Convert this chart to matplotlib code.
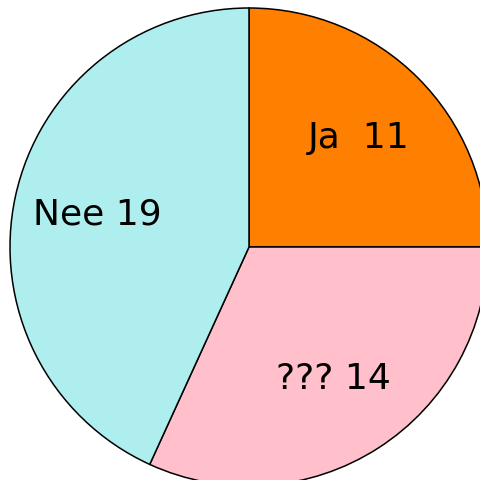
import matplotlib
matplotlib.use("Agg")
import matplotlib.pyplot as plt

labels = ["Ja", "???", "Nee"]
values = [11, 14, 19]
colors = ["#ff7f00", "#ffc0cb", "#afeeee"]
label_texts = ["Ja  11", "??? 14", "Nee 19"]

fig = plt.figure(figsize=(4.81, 4.81), dpi=100)
ax = fig.add_axes([0, 0, 1, 1])

ax.pie(values, labels=label_texts, colors=colors, startangle=90,
       counterclock=False, center=(249, 481 - 248), radius=239,
       labeldistance=0.65, frame=True,
       wedgeprops=dict(edgecolor="black", linewidth=1.1),
       textprops=dict(fontsize=26, ha="center", va="center", color="black"))
ax.set_xlim(0, 481)
ax.set_ylim(0, 481)
ax.set_aspect("equal")
ax.axis("off")

fig.savefig("out.png", dpi=100)
